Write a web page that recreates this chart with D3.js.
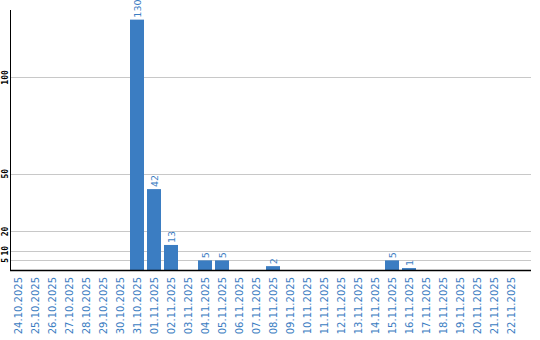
<!DOCTYPE html>
<html>
<head>
<meta charset="utf-8">
<script src="https://cdn.jsdelivr.net/npm/d3@7"></script>
<style>
  body { margin: 0; background: #fff; }
  svg { display: block; }
</style>
</head>
<body>
<div id="chart"></div>
<script>
// data
var dates = ["24.10.2025","25.10.2025","26.10.2025","27.10.2025","28.10.2025","29.10.2025","30.10.2025",
  "31.10.2025","01.11.2025","02.11.2025","03.11.2025","04.11.2025","05.11.2025","06.11.2025","07.11.2025",
  "08.11.2025","09.11.2025","10.11.2025","11.11.2025","12.11.2025","13.11.2025","14.11.2025","15.11.2025",
  "16.11.2025","17.11.2025","18.11.2025","19.11.2025","20.11.2025","21.11.2025","22.11.2025"];
var counts = [0,0,0,0,0,0,0,130,42,13,0,5,5,0,0,2,0,0,0,0,0,0,5,1,0,0,0,0,0,0];
var yTicks = [5, 10, 20, 50, 100];

var width = 540, height = 340;
var barColor = "#3b7dc2";

var svg = d3.select("#chart").append("svg")
  .attr("width", width)
  .attr("height", height);

var x = d3.scaleBand()
  .domain(dates)
  .range([11, 11 + dates.length * 17])
  .paddingInner(0.18)
  .paddingOuter(0.09)
  .align(0);

var y = d3.scaleLinear()
  .domain([0, 135])
  .range([270, 10]);

// grid
svg.append("g").selectAll("line")
  .data(yTicks)
  .enter().append("line")
  .attr("x1", 11).attr("x2", 531)
  .attr("y1", d => Math.round(y(d)) + 0.5)
  .attr("y2", d => Math.round(y(d)) + 0.5)
  .attr("stroke", "#c8c8c8")
  .attr("stroke-width", 1);

// y tick labels
svg.append("g").selectAll("text")
  .data(yTicks)
  .enter().append("text")
  .attr("transform", d => "translate(8," + y(d) + ")rotate(-90)")
  .attr("text-anchor", "middle")
  .style("font-family", "DejaVu Sans Mono")
  .style("font-size", "8px")
  .style("font-weight", "bold")
  .style("fill", "#000")
  .text(d => d);

// bars
svg.append("g").selectAll("rect")
  .data(dates)
  .enter().append("rect")
  .attr("x", d => Math.round(x(d)))
  .attr("width", Math.round(x.bandwidth()))
  .attr("y", (d, i) => y(counts[i]))
  .attr("height", (d, i) => y(0) - y(counts[i]))
  .attr("fill", barColor);

// value labels
svg.append("g").selectAll("text")
  .data(dates.filter((d, i) => counts[i] > 0))
  .enter().append("text")
  .attr("transform", d => "translate(" + (Math.round(x(d)) + x.bandwidth() / 2 + 4) + "," + (y(counts[dates.indexOf(d)]) - 2) + ")rotate(-90)")
  .attr("text-anchor", "start")
  .style("font-family", "DejaVu Sans")
  .style("font-size", "9.5px")
  .style("fill", barColor)
  .text(d => counts[dates.indexOf(d)]);

// axes lines
svg.append("line")
  .attr("x1", 10.5).attr("x2", 10.5)
  .attr("y1", 10).attr("y2", 271)
  .attr("stroke", "#000").attr("stroke-width", 1);
svg.append("line")
  .attr("x1", 10).attr("x2", 531)
  .attr("y1", 270.5).attr("y2", 270.5)
  .attr("stroke", "#000").attr("stroke-width", 1.5);

// x labels
svg.append("g").selectAll("text")
  .data(dates)
  .enter().append("text")
  .attr("transform", d => "translate(" + (Math.round(x(d)) + x.bandwidth() / 2 + 4) + ",277)rotate(-90)")
  .attr("text-anchor", "end")
  .style("font-family", "DejaVu Sans")
  .style("font-size", "10px")
  .style("fill", barColor)
  .text(d => d);
</script>
</body>
</html>
